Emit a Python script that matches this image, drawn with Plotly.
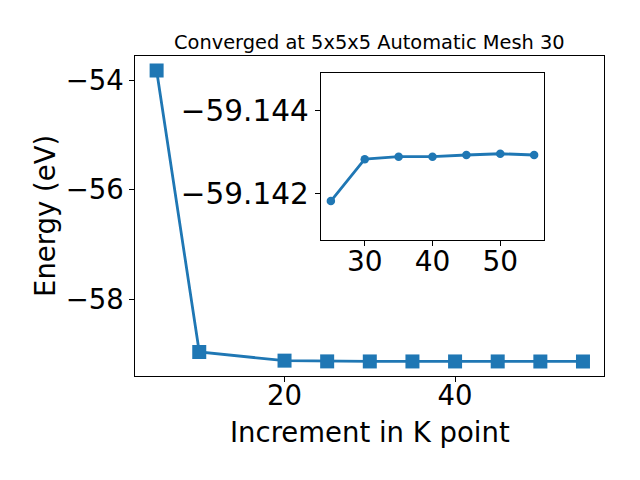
import plotly.graph_objects as go

# Data
kpoints = [5, 10, 20, 25, 30, 35, 40, 45, 50, 55]
energy = [-53.816, -58.97, -59.128, -59.14183, -59.14283, -59.14289,
          -59.14289, -59.14293, -59.14296, -59.14293]
inset_start = 3
inset_k = kpoints[inset_start:]
inset_e = energy[inset_start:]

main_yticks = [-54, -56, -58]
main_xticks = [20, 40]
inset_yticks = [-59.144, -59.142]
inset_xticks = [30, 40, 50]
inset_yrange = [-59.1409, -59.1449]  # inverted

title_text = "Converged at 5x5x5 Automatic Mesh 30"
xlabel = "Increment in K point"
ylabel = "Energy (eV)"

BLUE = "#1f77b4"
FONT = "DejaVu Sans"
OFF = 8  # page body margin
W, H = 640 - OFF, 480 - OFF


def pad_range(vals, frac=0.05):
    lo, hi = min(vals), max(vals)
    p = (hi - lo) * frac
    return [lo - p, hi + p]


def px(v):
    return (v - OFF) / W


def py(v):
    return 1 - (v - OFF) / H


fig = go.Figure()
fig.add_trace(go.Scatter(
    x=kpoints, y=energy, mode="lines+markers",
    line=dict(color=BLUE, width=2.8),
    marker=dict(symbol="square", size=14, color=BLUE),
    xaxis="x", yaxis="y", showlegend=False,
))
fig.add_trace(go.Scatter(
    x=inset_k, y=inset_e, mode="lines+markers",
    line=dict(color=BLUE, width=2.8),
    marker=dict(symbol="circle", size=8.5, color=BLUE),
    xaxis="x2", yaxis="y2", showlegend=False,
))

ax_common = dict(showline=True, mirror=True, linecolor="black", linewidth=1,
                 ticks="outside", ticklen=5, tickwidth=1, tickcolor="black",
                 showgrid=False, zeroline=False)


def tf(size):
    return dict(family=FONT, size=size, color="black")


main_x = [135.3, 604.3]
main_y = [56, 376]
ins_x = [320.7, 544.3]
ins_y = [72.5, 240]

fig.update_layout(
    width=W, height=H, margin=dict(l=0, r=0, t=0, b=0),
    paper_bgcolor="white", plot_bgcolor="white",
    font=dict(family=FONT, color="black"),
    xaxis=dict(domain=[px(main_x[0]), px(main_x[1])], anchor="y",
               range=pad_range(kpoints), tickvals=main_xticks,
               ticklabelstandoff=-10, tickfont=tf(27.5), **ax_common),
    yaxis=dict(domain=[py(main_y[1]), py(main_y[0])], anchor="x",
               range=pad_range(energy), tickvals=main_yticks,
               tickfont=tf(27.5), **ax_common),
    xaxis2=dict(domain=[px(ins_x[0]), px(ins_x[1])], anchor="y2",
                range=pad_range(inset_k), tickvals=inset_xticks,
                ticklabelstandoff=-9, tickfont=tf(28), **ax_common),
    yaxis2=dict(domain=[py(ins_y[1]), py(ins_y[0])], anchor="x2",
                range=inset_yrange, tickvals=inset_yticks, tickformat=".3f",
                tickfont=tf(29.5), **ax_common),
    annotations=[
        dict(text=title_text, xref="paper", yref="paper",
             x=px((main_x[0] + main_x[1]) / 2), y=py(42),
             xanchor="center", yanchor="middle", showarrow=False,
             font=tf(19.4)),
        dict(text=xlabel, xref="paper", yref="paper",
             x=px((main_x[0] + main_x[1]) / 2), y=py(432),
             xanchor="center", yanchor="middle", showarrow=False,
             font=tf(27.5)),
        dict(text=ylabel, xref="paper", yref="paper",
             x=px(45), y=py((main_y[0] + main_y[1]) / 2), textangle=-90,
             xanchor="center", yanchor="middle", showarrow=False,
             font=tf(27.5)),
    ],
)

fig.write_html("out.html")
